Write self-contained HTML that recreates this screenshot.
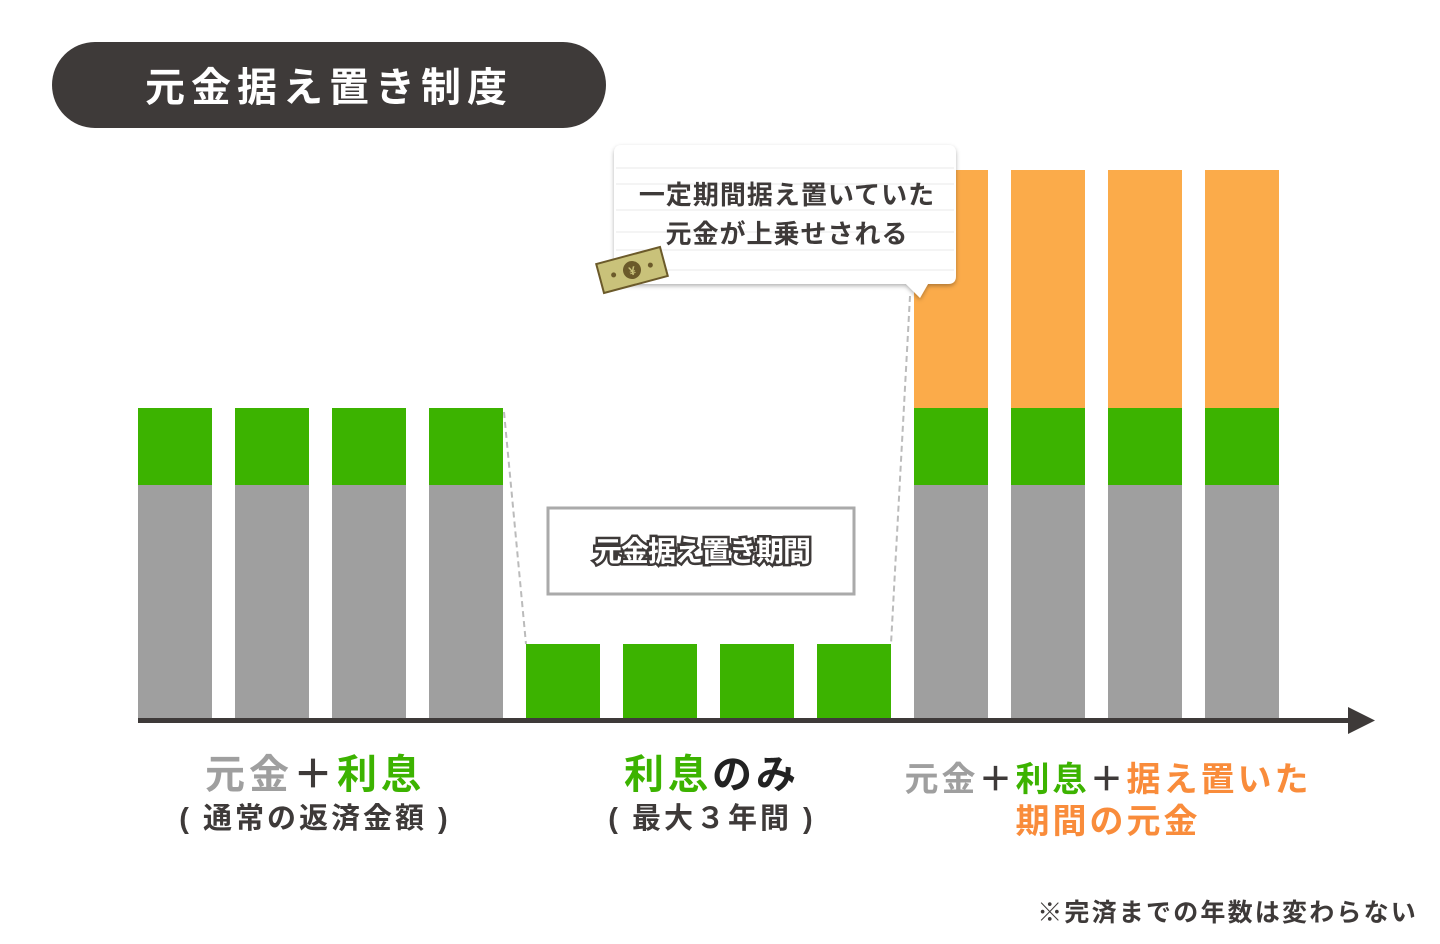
<!DOCTYPE html>
<html><head><meta charset="utf-8"><style>
html,body{margin:0;padding:0;background:#fff;width:1440px;height:944px;overflow:hidden}
svg text{font-family:"Liberation Sans","Noto Sans CJK JP",sans-serif;font-weight:bold}
</style></head><body>
<svg width="1440" height="944" viewBox="0 0 1440 944" xmlns="http://www.w3.org/2000/svg">
<defs>
<filter id="sh" x="-10%" y="-10%" width="120%" height="130%"><feDropShadow dx="0" dy="2" stdDeviation="2" flood-color="#000" flood-opacity="0.3"/></filter>
</defs>
<rect x="52" y="42" width="554" height="86" rx="43" fill="#3e3a39"/>
<text x="329" y="101" font-size="40" fill="#fff" text-anchor="middle" letter-spacing="6">元金据え置き制度</text>

<g>
<rect x="138" y="408" width="74" height="77" fill="#3cb300"/><rect x="138" y="485" width="74" height="233" fill="#9f9f9f"/>
<rect x="235" y="408" width="74" height="77" fill="#3cb300"/><rect x="235" y="485" width="74" height="233" fill="#9f9f9f"/>
<rect x="332" y="408" width="74" height="77" fill="#3cb300"/><rect x="332" y="485" width="74" height="233" fill="#9f9f9f"/>
<rect x="429" y="408" width="74" height="77" fill="#3cb300"/><rect x="429" y="485" width="74" height="233" fill="#9f9f9f"/>
</g>
<rect x="526" y="644" width="74" height="74" fill="#3cb300"/>
<rect x="623" y="644" width="74" height="74" fill="#3cb300"/>
<rect x="720" y="644" width="74" height="74" fill="#3cb300"/>
<rect x="817" y="644" width="74" height="74" fill="#3cb300"/>
<g>
<rect x="914" y="170" width="74" height="238" fill="#fbab4a"/><rect x="914" y="408" width="74" height="77" fill="#3cb300"/><rect x="914" y="485" width="74" height="233" fill="#9f9f9f"/>
<rect x="1011" y="170" width="74" height="238" fill="#fbab4a"/><rect x="1011" y="408" width="74" height="77" fill="#3cb300"/><rect x="1011" y="485" width="74" height="233" fill="#9f9f9f"/>
<rect x="1108" y="170" width="74" height="238" fill="#fbab4a"/><rect x="1108" y="408" width="74" height="77" fill="#3cb300"/><rect x="1108" y="485" width="74" height="233" fill="#9f9f9f"/>
<rect x="1205" y="170" width="74" height="238" fill="#fbab4a"/><rect x="1205" y="408" width="74" height="77" fill="#3cb300"/><rect x="1205" y="485" width="74" height="233" fill="#9f9f9f"/>
</g>
<line x1="504" y1="412" x2="526" y2="644" stroke="#bbb" stroke-width="2" stroke-dasharray="6,4"/>
<line x1="910" y1="296" x2="891" y2="644" stroke="#bbb" stroke-width="2" stroke-dasharray="6,4"/>

<rect x="138" y="718" width="1215" height="5" fill="#3e3a39"/>
<polygon points="1348,707 1375,720.5 1348,734" fill="#3e3a39"/>

<rect x="548" y="508" width="306" height="86" fill="#fff" stroke="#aaa" stroke-width="3"/>
<text x="702" y="561" font-size="28" fill="#fff" stroke="#3e3a39" stroke-width="5" paint-order="stroke" text-anchor="middle" letter-spacing="-1">元金据え置き期間</text>

<g filter="url(#sh)">
<path d="M622,145 H948 Q956,145 956,153 V276 Q956,284 948,284 H928 L920,298 L906,284 H622 Q614,284 614,276 V153 Q614,145 622,145 Z" fill="#fff"/>
</g>
<g stroke="#e8e8e8" stroke-width="1">
<line x1="616" y1="168" x2="954" y2="168"/><line x1="616" y1="184" x2="954" y2="184"/>
<line x1="616" y1="210" x2="954" y2="210"/><line x1="616" y1="232" x2="954" y2="232"/>
<line x1="616" y1="250" x2="954" y2="250"/><line x1="616" y1="270" x2="954" y2="270"/>
</g>
<text x="787" y="204" font-size="26" fill="#3e3a39" text-anchor="middle" font-weight="normal" letter-spacing="1">一定期間据え置いていた</text>
<text x="787" y="243" font-size="26" fill="#3e3a39" text-anchor="middle" font-weight="normal" letter-spacing="1">元金が上乗せされる</text>
<g transform="rotate(-15 632 270)">
<rect x="599" y="255" width="66" height="30" fill="#c9c27a" stroke="#6b5a2a" stroke-width="2"/>
<circle cx="632" cy="270" r="9" fill="#6b5a2a"/>
<text x="632" y="275" font-size="12" fill="#c9c27a" text-anchor="middle">¥</text>
<circle cx="613" cy="270" r="2.5" fill="#6b5a2a"/><circle cx="651" cy="270" r="2.5" fill="#6b5a2a"/>
</g>

<text x="315" y="788" font-size="40" text-anchor="middle" letter-spacing="4"><tspan fill="#9f9f9f">元金</tspan><tspan fill="#3e3a39">＋</tspan><tspan fill="#3cb300">利息</tspan></text>
<text x="315" y="828" font-size="29" fill="#3e3a39" text-anchor="middle" letter-spacing="3">( 通常の返済金額 )</text>
<text x="712" y="788" font-size="40" text-anchor="middle" letter-spacing="4"><tspan fill="#3cb300">利息</tspan><tspan fill="#222">のみ</tspan></text>
<text x="712" y="828" font-size="29" fill="#3e3a39" text-anchor="middle" letter-spacing="3">( 最大３年間 )</text>
<text x="1108" y="791" font-size="34" text-anchor="middle" letter-spacing="3"><tspan fill="#9f9f9f">元金</tspan><tspan fill="#3e3a39">＋</tspan><tspan fill="#3cb300">利息</tspan><tspan fill="#3e3a39">＋</tspan><tspan fill="#f98c3b">据え置いた</tspan></text>
<text x="1108" y="833" font-size="34" fill="#f98c3b" text-anchor="middle" letter-spacing="3">期間の元金</text>

<text x="1418" y="921" font-size="25" fill="#3e3a39" text-anchor="end" font-weight="normal" letter-spacing="2.2">※完済までの年数は変わらない</text>
</svg>
</body></html>
